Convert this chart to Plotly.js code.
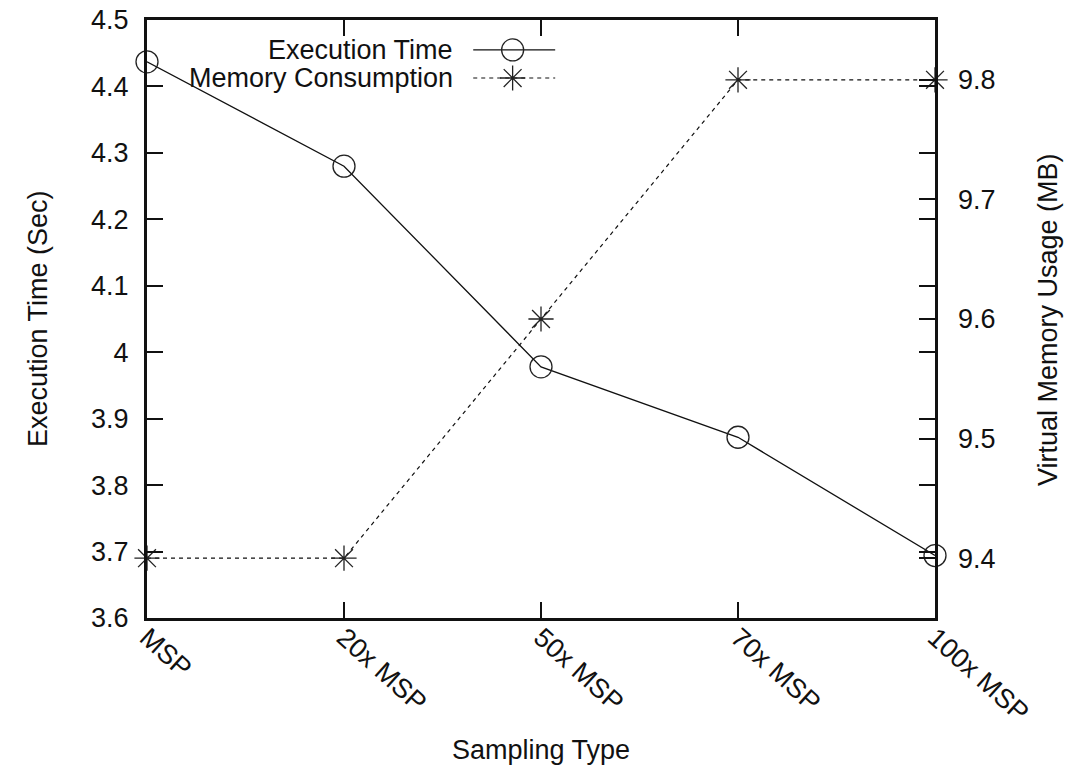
<!DOCTYPE html>
<html>
<head>
<meta charset="utf-8">
<script src="https://cdn.plot.ly/plotly-3.0.1.min.js"></script>
<style>html,body{margin:0;padding:0;background:#fff;}#chart{width:1073px;height:768px;}</style>
</head>
<body>
<div id="chart"></div>
<script>
const categories = ["MSP", "20x MSP", "50x MSP", "70x MSP", "100x MSP"];
const executionTime = [4.437, 4.28, 3.978, 3.872, 3.694];
const memoryUsage = [9.4, 9.4, 9.6, 9.8, 9.8];
const seriesNames = ["Execution Time", "Memory Consumption"];
const axisTitles = ["Sampling Type", "Execution Time (Sec)", "Virtual Memory Usage (MB)"];

const FONT = "Liberation Sans, Arial, Helvetica, sans-serif";
const FS = 27;
const idx = categories.map((c, i) => i);
const tf = {family: FONT, size: FS, color: "#111"};

const traces = [
  {
    x: idx, y: executionTime, yaxis: "y", xaxis: "x", type: "scatter", mode: "lines+markers",
    name: seriesNames[0], cliponaxis: false, showlegend: false,
    line: {color: "#111", width: 1.3},
    marker: {symbol: "circle-open", size: 22, color: "#222", line: {width: 1.3, color: "#222"}}
  },
  {
    x: idx, y: memoryUsage, yaxis: "y2", xaxis: "x", type: "scatter", mode: "lines+markers",
    name: seriesNames[1], cliponaxis: false, showlegend: false,
    line: {color: "#111", width: 1.2, dash: "4px,4px"},
    marker: {symbol: "asterisk-open", size: 21, color: "#222", line: {width: 1.3, color: "#222"}}
  },
  // custom legend keys (drawn to the right of the text, as in the reference)
  {
    x: [0.414, 0.518], y: [0.950, 0.950], xaxis: "x2", yaxis: "y3", type: "scatter", mode: "lines",
    showlegend: false, hoverinfo: "skip", cliponaxis: false, line: {color: "#111", width: 1.3}
  },
  {
    x: [0.464], y: [0.950], xaxis: "x2", yaxis: "y3", type: "scatter", mode: "markers",
    showlegend: false, hoverinfo: "skip", cliponaxis: false,
    marker: {symbol: "circle-open", size: 22, color: "#222", line: {width: 1.3, color: "#222"}}
  },
  {
    x: [0.414, 0.518], y: [0.903, 0.903], xaxis: "x2", yaxis: "y3", type: "scatter", mode: "lines",
    showlegend: false, hoverinfo: "skip", cliponaxis: false, line: {color: "#111", width: 1.2, dash: "4px,4px"}
  },
  {
    x: [0.464], y: [0.903], xaxis: "x2", yaxis: "y3", type: "scatter", mode: "markers",
    showlegend: false, hoverinfo: "skip", cliponaxis: false,
    marker: {symbol: "asterisk-open", size: 21, color: "#222", line: {width: 1.3, color: "#222"}}
  }
];

const layout = {
  width: 1073, height: 768,
  margin: {l: 147, r: 138, t: 20, b: 150, pad: 0},
  paper_bgcolor: "#fff", plot_bgcolor: "#fff",
  font: tf,
  showlegend: false,
  xaxis: {
    range: [0, 4], tickvals: idx, ticktext: categories, tickangle: 42,
    ticks: "inside", ticklen: 16, tickwidth: 2, tickcolor: "#111",
    showline: true, linewidth: 3, linecolor: "#111", mirror: "ticks",
    showgrid: false, zeroline: false, tickfont: tf, ticklabelstandoff: -10
  },
  yaxis: {
    range: [3.6, 4.5], dtick: 0.1, tick0: 3.6,
    ticks: "inside", ticklen: 16, tickwidth: 2, tickcolor: "#111",
    showline: true, linewidth: 3, linecolor: "#111", mirror: "ticks",
    showgrid: false, zeroline: false, tickfont: tf, ticklabelstandoff: 10
  },
  yaxis2: {
    range: [9.35, 9.85], dtick: 0.1, tick0: 9.4, overlaying: "y", side: "right",
    ticks: "inside", ticklen: 16, tickwidth: 2, tickcolor: "#111",
    showline: false, showgrid: false, zeroline: false, tickfont: tf, ticklabelstandoff: 22
  },
  xaxis2: {range: [0, 1], overlaying: "x", visible: false, anchor: "y3"},
  yaxis3: {range: [0, 1], overlaying: "y", visible: false, anchor: "x2"},
  annotations: [
    {xref: "x2", yref: "y3", x: 0.391, y: 0.950, text: seriesNames[0], showarrow: false,
     xanchor: "right", yanchor: "middle", font: tf},
    {xref: "x2", yref: "y3", x: 0.391, y: 0.903, text: seriesNames[1], showarrow: false,
     xanchor: "right", yanchor: "middle", font: tf},
    {xref: "paper", yref: "paper", x: 0.5, y: -0.2207, text: axisTitles[0], showarrow: false,
     xanchor: "center", yanchor: "middle", font: tf},
    {xref: "paper", yref: "paper", x: -0.1383, y: 0.5, text: axisTitles[1], showarrow: false,
     textangle: -90, xanchor: "center", yanchor: "middle", font: tf},
    {xref: "paper", yref: "paper", x: 1.1434, y: 0.5, text: axisTitles[2], showarrow: false,
     textangle: -90, xanchor: "center", yanchor: "middle", font: tf}
  ]
};

Plotly.newPlot("chart", traces, layout, {staticPlot: true, displayModeBar: false});
</script>
</body>
</html>
